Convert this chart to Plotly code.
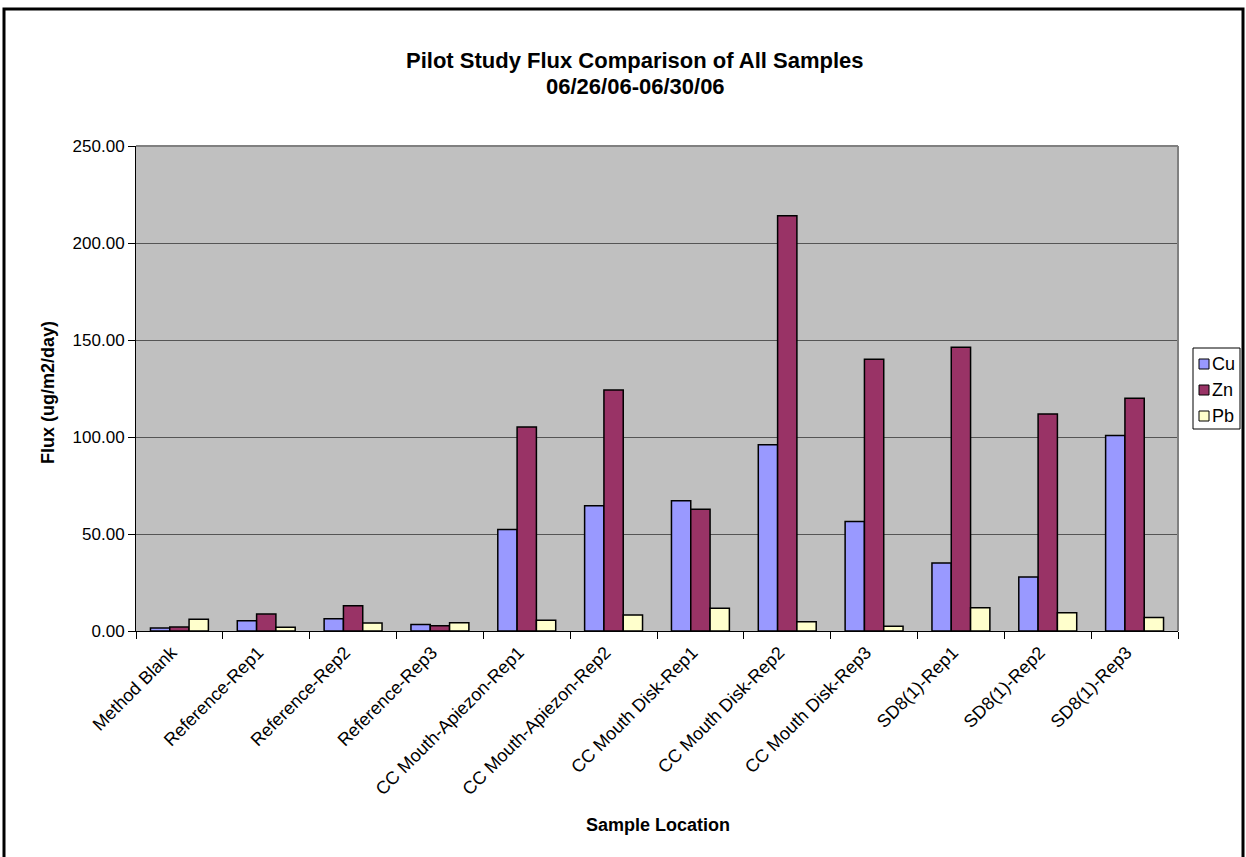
import plotly.graph_objects as go

samples = [
    "Method Blank", "Reference-Rep1", "Reference-Rep2", "Reference-Rep3",
    "CC Mouth-Apiezon-Rep1", "CC Mouth-Apiezon-Rep2", "CC Mouth Disk-Rep1",
    "CC Mouth Disk-Rep2", "CC Mouth Disk-Rep3", "SD8(1)-Rep1", "SD8(1)-Rep2",
    "SD8(1)-Rep3",
]
cu = [1.5, 5.3, 6.3, 3.3, 52.3, 64.5, 67.1, 96.0, 56.4, 35.0, 27.8, 100.8]
zn = [2.0, 8.7, 13.0, 2.7, 105.1, 124.2, 62.8, 214.0, 140.1, 146.3, 111.8, 120.0]
pb = [6.0, 1.9, 4.1, 4.3, 5.5, 8.2, 11.7, 4.8, 2.4, 12.0, 9.4, 7.0]

series = [("Cu", cu, "#9999FF"), ("Zn", zn, "#993366"), ("Pb", pb, "#FFFFCC")]

title_lines = ["Pilot Study Flux Comparison of All Samples", "06/26/06-06/30/06"]

FONT = "Arial, Liberation Sans, sans-serif"
W, H = 1246, 857
L, R, T, B = 136, 68, 146, 226
pw, ph = W - L - R, H - T - B


def px_x(x):
    return (x - L) / pw


def px_y(y):
    return (H - B - y) / ph


fig = go.Figure()
for name, vals, color in series:
    fig.add_trace(go.Bar(
        x=samples, y=vals, name=name,
        marker=dict(color=color, line=dict(color="black", width=1.5)),
        showlegend=False,
    ))

shapes = [
    # plot area frame (top/right in grey)
    dict(type="line", xref="paper", yref="paper", x0=0, x1=1, y0=1, y1=1,
         line=dict(color="#808080", width=2)),
    dict(type="line", xref="paper", yref="paper", x0=1, x1=1, y0=0, y1=1,
         line=dict(color="#808080", width=2)),
    # outer chart border
    dict(type="rect", xref="paper", yref="paper",
         x0=px_x(4), x1=px_x(1243), y0=px_y(870), y1=px_y(9),
         line=dict(color="black", width=3), fillcolor="rgba(0,0,0,0)",
         layer="above"),
    # legend box
    dict(type="rect", xref="paper", yref="paper",
         x0=px_x(1193), x1=px_x(1240), y0=px_y(429), y1=px_y(348),
         line=dict(color="black", width=1), fillcolor="white"),
]

annotations = [
    dict(text="<b>Sample Location</b>",
         xref="paper", yref="paper", x=px_x(658), y=px_y(825),
         xanchor="center", yanchor="middle", showarrow=False,
         font=dict(family=FONT, size=18)),
    dict(text="<b>Flux (ug/m2/day)</b>", textangle=-90,
         xref="paper", yref="paper", x=px_x(48), y=px_y(393),
         xanchor="center", yanchor="middle", showarrow=False,
         font=dict(family=FONT, size=18)),
]

# two-line chart title
for i, line in enumerate(title_lines):
    annotations.append(dict(text=f"<b>{line}</b>", xref="paper", yref="paper",
                            x=px_x(635), y=px_y(61 + i * 25),
                            xanchor="center", yanchor="middle",
                            showarrow=False, font=dict(family=FONT, size=22)))

# legend entries: swatch + series name
for i, (name, _, color) in enumerate(series):
    cy = 364 + i * 26
    shapes.append(dict(type="rect", xref="paper", yref="paper",
                       x0=px_x(1199), x1=px_x(1209),
                       y0=px_y(cy + 5), y1=px_y(cy - 5),
                       line=dict(color="black", width=1), fillcolor=color))
    annotations.append(dict(text=name, xref="paper", yref="paper",
                            x=px_x(1210), y=px_y(cy), xanchor="left",
                            yanchor="middle", showarrow=False,
                            font=dict(family=FONT, size=18)))

fig.update_layout(
    width=W, height=H,
    margin=dict(l=L, r=R, t=T, b=B, autoexpand=False),
    paper_bgcolor="white",
    plot_bgcolor="#C0C0C0",
    barmode="group",
    bargap=0.333,
    bargroupgap=0,
    font=dict(family=FONT, size=17, color="black"),
    showlegend=False,
    xaxis=dict(
        type="category",
        tickangle=-45,
        ticks="outside", ticklen=7, tickcolor="black",
        tickson="boundaries",
        ticklabelshift=-8, ticklabelstandoff=3,
        showline=True, linecolor="black", linewidth=1,
        tickfont=dict(family=FONT, size=18),
        showgrid=False,
    ),
    yaxis=dict(
        range=[0, 250], dtick=50, tickformat=".2f",
        ticks="outside", ticklen=7, tickcolor="black",
        showline=True, linecolor="black", linewidth=1,
        showgrid=True, gridcolor="#555555", gridwidth=1,
        tickfont=dict(family=FONT, size=17),
        zeroline=False,
    ),
    shapes=shapes,
    annotations=annotations,
)

fig.write_html("out.html")
